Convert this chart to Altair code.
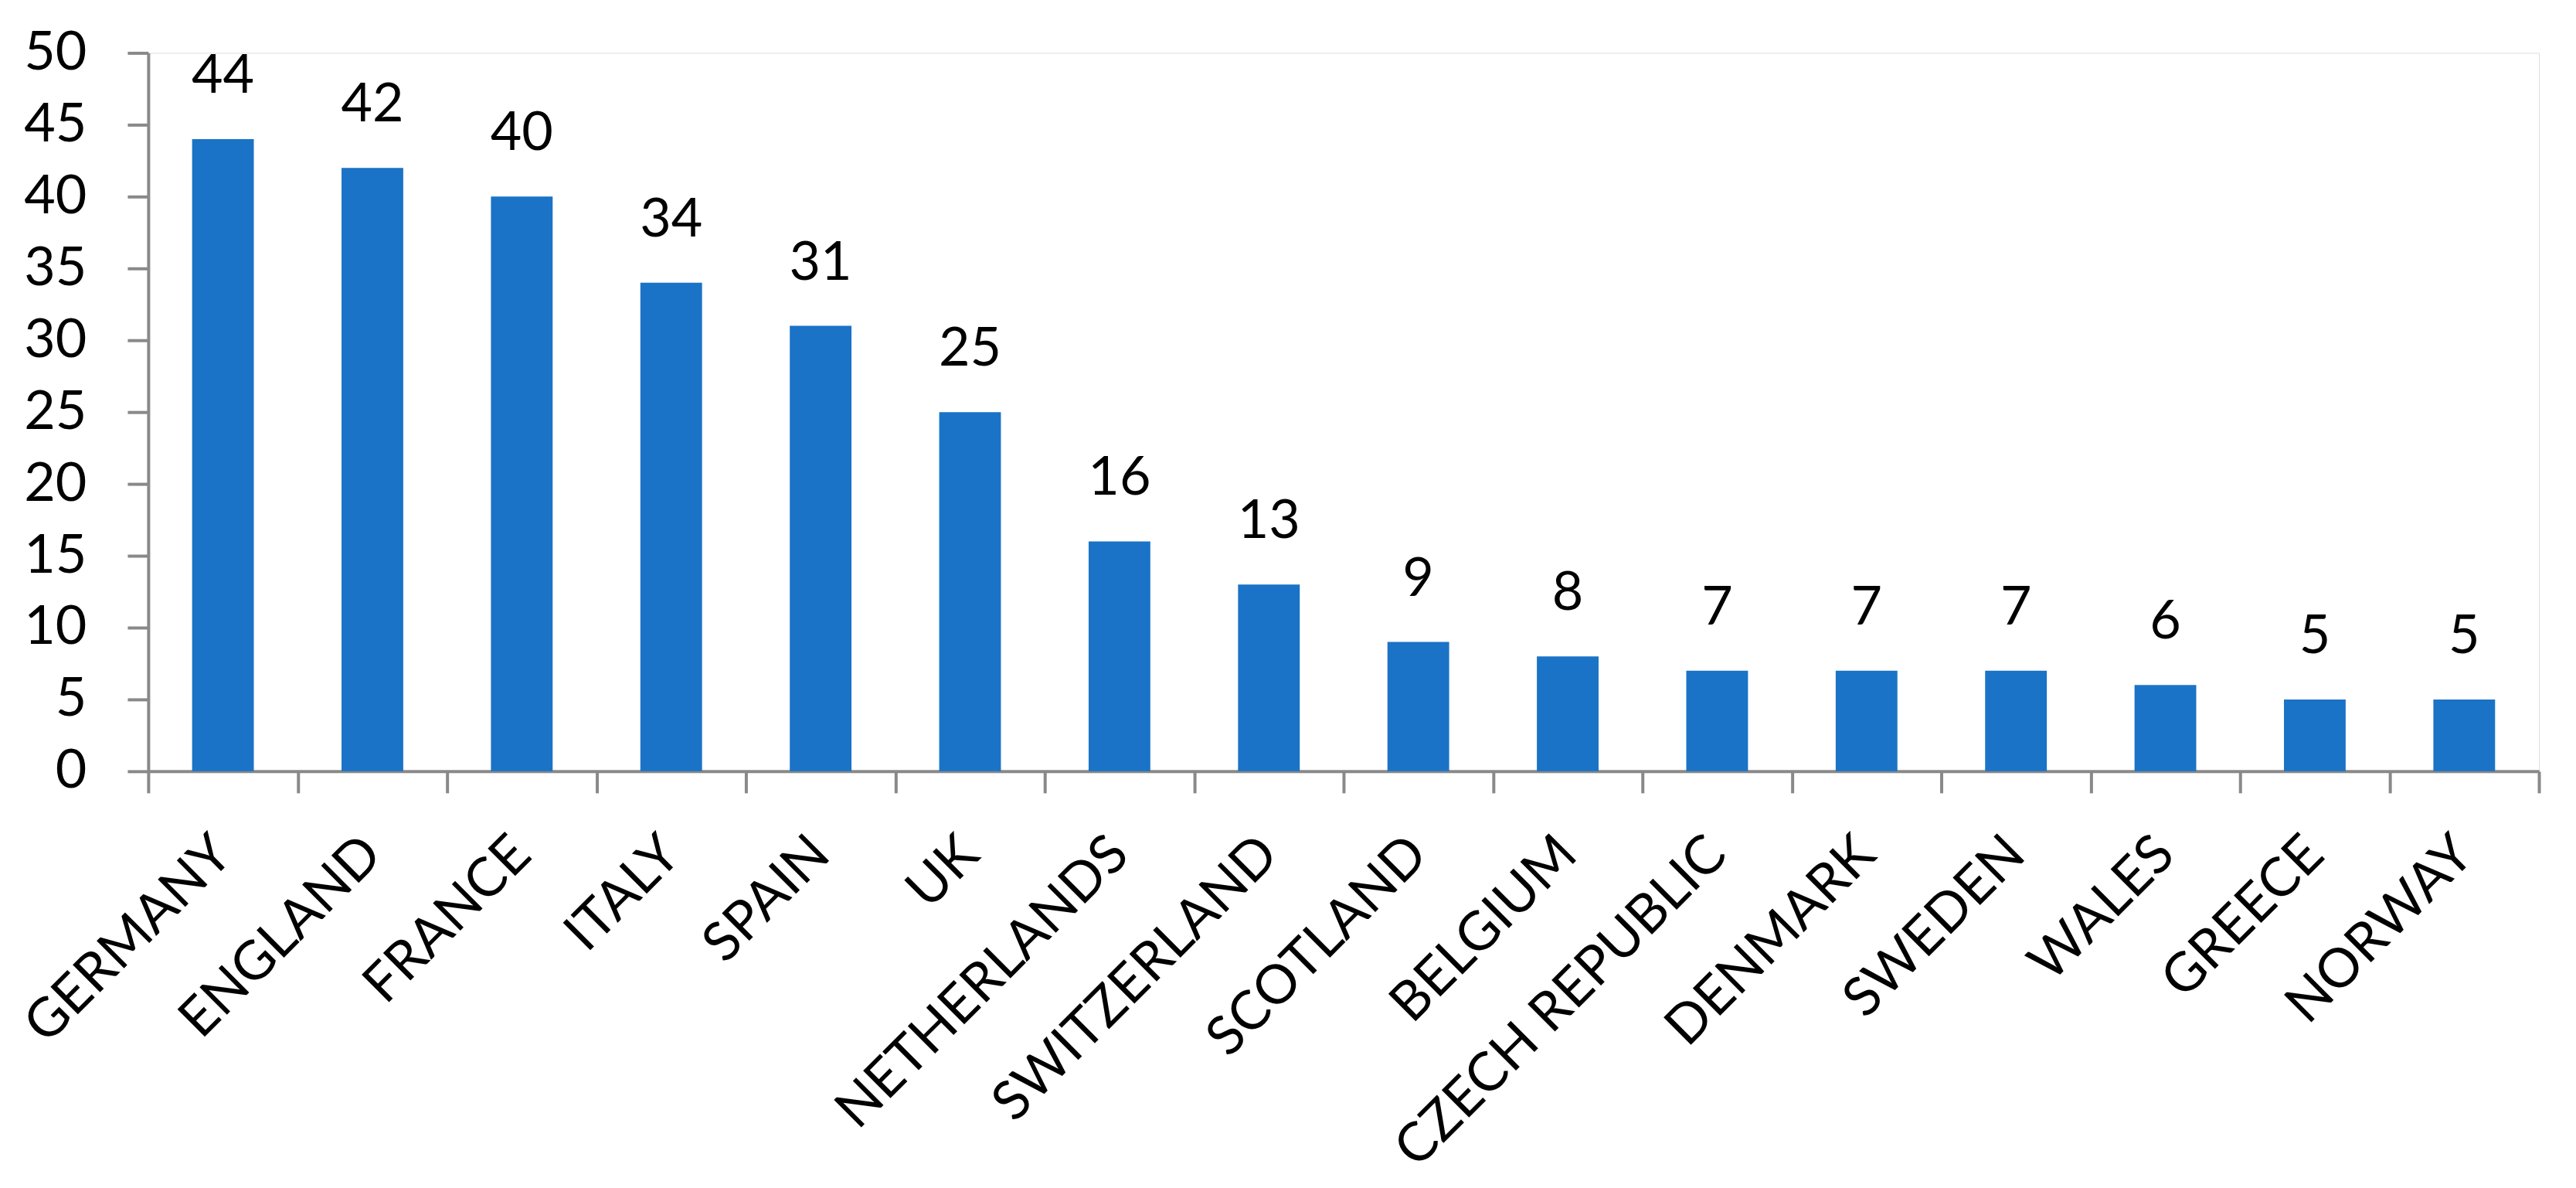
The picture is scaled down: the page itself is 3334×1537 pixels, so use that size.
import altair as alt
import pandas as pd

countries = ["GERMANY", "ENGLAND", "FRANCE", "ITALY", "SPAIN", "UK", "NETHERLANDS",
             "SWITZERLAND", "SCOTLAND", "BELGIUM", "CZECH REPUBLIC", "DENMARK",
             "SWEDEN", "WALES", "GREECE", "NORWAY"]
values = [44, 42, 40, 34, 31, 25, 16, 13, 9, 8, 7, 7, 7, 6, 5, 5]
y_ticks = [0, 5, 10, 15, 20, 25, 30, 35, 40, 45, 50]

df = pd.DataFrame({"country": countries, "value": values})

FONT = "Lato"
GRAY = "#898989"
BLUE = "#1a73c6"

x_enc = alt.X(
    "country:N", sort=countries,
    scale=alt.Scale(paddingInner=0, paddingOuter=0),
    axis=alt.Axis(title=None, labelAngle=-45, labelAlign="right", labelBaseline="middle",
                  labelFont=FONT, labelFontSize=70, labelColor="black", labelLimit=0,
                  tickBand="extent", tickSize=28, tickWidth=4, tickColor=GRAY,
                  domainColor=GRAY, domainWidth=4, labelPadding=68, labelOverlap=False),
)
y_enc = alt.Y(
    "value:Q",
    scale=alt.Scale(domain=[0, 50], nice=False),
    axis=alt.Axis(title=None, values=y_ticks, labelFont=FONT, labelFontSize=70,
                  labelColor="black", tickSize=27, tickWidth=4, tickColor=GRAY,
                  domainColor=GRAY, domainWidth=4, labelPadding=53, grid=False),
)

bars = alt.Chart(df).mark_bar(color=BLUE, width=alt.RelativeBandSize(0.413)).encode(x=x_enc, y=y_enc)
labels = alt.Chart(df).mark_text(
    font=FONT, fontSize=70, color="black", baseline="alphabetic", dy=-60
).encode(x=alt.X("country:N", sort=countries), y="value:Q", text="value:Q")

chart = alt.layer(bars, labels).properties(
    width=3096, height=930,
    autosize=alt.AutoSizeParams(type="none"),
    padding={"left": 184, "top": 60, "right": 40, "bottom": 530},
).configure_view(strokeWidth=0).configure(background="white")

chart.save("out.html", embed_options={"renderer": "svg", "actions": False})
